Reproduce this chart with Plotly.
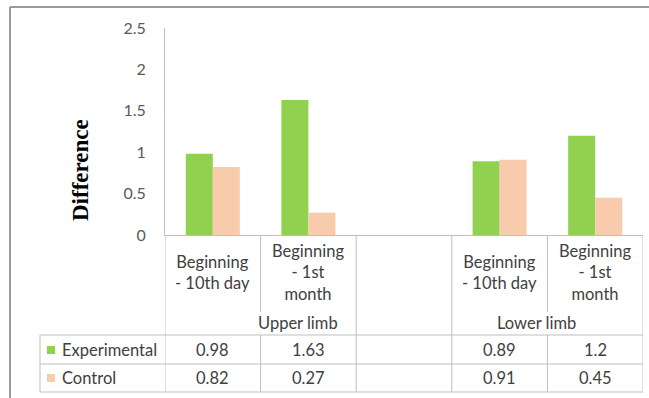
import plotly.graph_objects as go

# Data
categories = ["Beginning<br>- 10th day", "Beginning<br>- 1st<br>month", "",
              "Beginning<br>- 10th day", "Beginning<br>- 1st<br>month"]
groups = ["Upper limb", "Lower limb"]
group_pos = [0.89, 3.39]          # category-axis position of each group label
experimental = [0.98, 1.63, None, 0.89, 1.2]
control = [0.82, 0.27, None, 0.91, 0.45]
value_text_exp = ["0.98", "1.63", "", "0.89", "1.2"]
value_text_ctl = ["0.82", "0.27", "", "0.91", "0.45"]
series_names = ["Experimental", "Control"]
y_ticks = [0, 0.5, 1, 1.5, 2, 2.5]
y_tick_text = ["0", "0.5", "1", "1.5", "2", "2.5"]

GREEN = "#92D050"
PEACH = "#F8CBAD"
GRID = "#BFBFBF"
TEXT = "#404040"
FONT = "Lato"
TSIZE = 16.5

W, H = 649, 398
ML, MR, MT, MB = 165, 6, 28, 163
PW, PH = W - ML - MR, H - MT - MB


def px_y(py):
    """Pixel row -> paper y."""
    return (H - MB - py) / PH


def px_x(px):
    """Pixel column -> paper x."""
    return (px - ML) / PW


xs = list(range(len(categories)))

fig = go.Figure()
fig.add_trace(go.Bar(x=xs, y=experimental, name=series_names[0],
                     marker=dict(color=GREEN, line=dict(width=0))))
fig.add_trace(go.Bar(x=xs, y=control, name=series_names[1],
                     marker=dict(color=PEACH, line=dict(width=0))))

shapes = []
annotations = []


def hline(y_px, x0p, x1p):
    shapes.append(dict(type="line", xref="paper", yref="paper",
                       x0=px_x(x0p), x1=px_x(x1p), y0=px_y(y_px), y1=px_y(y_px),
                       line=dict(color=GRID, width=1)))


def vline_cat(xc, y0_px, y1_px):
    shapes.append(dict(type="line", xref="x", yref="paper",
                       x0=xc, x1=xc, y0=px_y(y0_px), y1=px_y(y1_px),
                       line=dict(color=GRID, width=1)))


TABLE_LEFT = 40
TABLE_RIGHT = ML + PW
ROW_CAT_END = 312
ROW_GRP_END = 335
ROW_EXP_END = 364
ROW_CTL_END = 392

# table horizontal rules
for yy in (ROW_GRP_END, ROW_EXP_END, ROW_CTL_END):
    hline(yy, TABLE_LEFT, TABLE_RIGHT)

# table vertical rules: group boundaries run full height,
# inner category boundaries skip the group-label row
n = len(categories)
for b in [i - 0.5 for i in range(n + 1)]:
    if b in (-0.5, 1.5, 2.5, n - 0.5):
        vline_cat(b, H - MB, ROW_CTL_END)
    else:
        vline_cat(b, H - MB, ROW_CAT_END)
        vline_cat(b, ROW_GRP_END, ROW_CTL_END)
shapes.append(dict(type="line", xref="paper", yref="paper",
                   x0=px_x(TABLE_LEFT), x1=px_x(TABLE_LEFT),
                   y0=px_y(ROW_GRP_END), y1=px_y(ROW_CTL_END),
                   line=dict(color=GRID, width=1)))

# outer chart frame (top and left edges)
shapes.append(dict(type="line", xref="paper", yref="paper",
                   x0=px_x(10), x1=px_x(W + 5), y0=px_y(7), y1=px_y(7),
                   line=dict(color="#9A9A9A", width=2)))
shapes.append(dict(type="line", xref="paper", yref="paper",
                   x0=px_x(10), x1=px_x(10), y0=px_y(7), y1=px_y(H + 5),
                   line=dict(color="#9A9A9A", width=2)))

# category labels
for i, c in enumerate(categories):
    if c:
        annotations.append(dict(x=i, y=px_y(272), xref="x", yref="paper",
                                text=c, showarrow=False,
                                font=dict(family=FONT, size=TSIZE, color=TEXT),
                                xanchor="center", yanchor="middle"))
# group labels
for g, gx in zip(groups, group_pos):
    annotations.append(dict(x=gx, y=px_y(323), xref="x", yref="paper",
                            text=g, showarrow=False,
                            font=dict(family=FONT, size=TSIZE, color=TEXT),
                            xanchor="center", yanchor="middle"))
# value rows
for row_y, vals in ((350, value_text_exp), (378, value_text_ctl)):
    for i, v in enumerate(vals):
        if v:
            annotations.append(dict(x=i, y=px_y(row_y), xref="x", yref="paper",
                                    text=v, showarrow=False,
                                    font=dict(family=FONT, size=TSIZE, color=TEXT),
                                    xanchor="center", yanchor="middle"))
# legend keys inside the table
for row_y, name, col in ((350, series_names[0], GREEN), (378, series_names[1], PEACH)):
    shapes.append(dict(type="rect", xref="paper", yref="paper",
                       x0=px_x(47), x1=px_x(55), y0=px_y(row_y - 4), y1=px_y(row_y + 4),
                       fillcolor=col, line=dict(width=0)))
    annotations.append(dict(x=px_x(60), y=px_y(row_y), xref="paper", yref="paper",
                            text=name, showarrow=False,
                            font=dict(family=FONT, size=TSIZE, color=TEXT),
                            xanchor="left", yanchor="middle"))

# y-axis title
annotations.append(dict(x=px_x(80), y=px_y(170), xref="paper", yref="paper",
                        text="<b>Difference</b>", textangle=-90, showarrow=False,
                        font=dict(family="Liberation Serif", size=23, color="#000000"),
                        xanchor="center", yanchor="middle"))

fig.update_layout(
    width=W, height=H,
    margin=dict(l=ML, r=MR, t=MT, b=MB),
    paper_bgcolor="white", plot_bgcolor="white",
    barmode="group", bargap=0.435, bargroupgap=0,
    showlegend=False,
    shapes=shapes, annotations=annotations,
    xaxis=dict(range=[-0.5, n - 0.5], showticklabels=False, ticks="",
               showgrid=False, zeroline=False, showline=True,
               linecolor=GRID, linewidth=1, fixedrange=True),
    yaxis=dict(range=[0, 2.5], tickvals=y_ticks, ticktext=y_tick_text,
               showgrid=False, zeroline=False, showline=True,
               linecolor=GRID, linewidth=1, ticks="",
               ticklabelstandoff=15,
               tickfont=dict(family=FONT, size=16, color="#595959")),
)

fig.write_html("out.html")
